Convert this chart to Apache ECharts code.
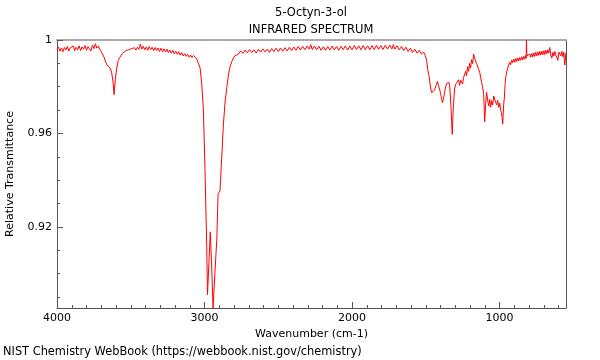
<!DOCTYPE html>
<html>
<head>
<meta charset="utf-8">
<script src="https://cdn.jsdelivr.net/npm/echarts@6/dist/echarts.min.js"></script>
<style>
html,body{margin:0;padding:0;background:#fff;}
#chart{width:600px;height:360px;}
</style>
</head>
<body>
<div id="chart"></div>
<script>
const wavenumbers = [
4000,3990,3980,3970,3960,3950,3940,3930,3920,3910,3900,3890,3880,3870,3860,3850,3840,3830,3820,3810,
3800,3790,3780,3770,3760,3750,3740,3730,3720,3710,3700,3690,3680,3670,3660,3650,3640,3630,3620,3613,
3605,3595,3585,3575,3565,3555,3545,3535,3525,3515,3505,3495,3485,3475,3465,3455,3445,3435,3425,3415,
3405,3395,3385,3375,3365,3355,3345,3335,3325,3315,3305,3295,3285,3275,3265,3255,3245,3235,3225,3215,
3205,3195,3185,3175,3165,3155,3145,3135,3125,3115,3105,3095,3085,3075,3064,3053,3030,3019,3008,2997,
2985,2980,2970,2961,2951,2942,2930,2917,2908,2895,2883,2872,2860,2849,2838,2827,2815,2804,2795,2786,
2770,2755,2740,2725,2710,2695,2680,2665,2650,2635,2620,2605,2590,2575,2560,2545,2530,2515,2500,2485,
2470,2455,2440,2425,2410,2395,2380,2365,2350,2335,2320,2305,2290,2280,2270,2255,2240,2225,2210,2195,
2180,2165,2150,2135,2120,2105,2090,2075,2060,2045,2030,2015,2000,1985,1970,1955,1940,1925,1910,1895,
1880,1865,1850,1835,1820,1805,1790,1775,1760,1745,1730,1720,1710,1695,1680,1665,1650,1635,1620,1605,
1590,1575,1560,1545,1530,1515,1505,1495,1488,1478,1468,1461,1455,1448,1441,1434,1428,1421,1414,1407,
1400,1393,1387,1380,1373,1366,1358,1350,1343,1337,1330,1325,1321,1316,1312,1305,1298,1292,1285,1278,
1271,1264,1258,1251,1244,1237,1230,1224,1217,1210,1203,1197,1190,1183,1176,1170,1163,1156,1149,1142,
1135,1128,1122,1115,1108,1101,1095,1088,1081,1074,1067,1061,1054,1047,1040,1033,1027,1020,1013,1006,
999,993,988,983,979,973,967,963,959,952,945,938,932,925,918,911,904,897,890,884,
877,870,864,857,850,843,836,829,823,820,818,815,809,802,795,789,782,775,768,762,
755,748,741,734,728,721,714,707,700,694,687,680,673,667,660,653,646,639,632,626,
619,612,605,598,592,585,578,571,565,558,551
];
const transmittance = [
.9958,.9970,.9952,.9966,.9950,.9968,.9957,.9972,.9953,.9967,.9960,.9974,.9954,.9969,.9958,.9975,.9955,.9970,.9961,.9976,
.9956,.9971,.9962,.9953,.9979,.9963,.9984,.9965,.9974,.9960,.9950,.9945,.9925,.9905,.9893,.9890,.9880,.9862,.9820,.9766,
.9830,.9880,.9912,.9925,.9935,.9944,.9942,.9953,.9946,.9958,.9950,.9963,.9955,.9967,.9957,.9969,.9960,.9982,.9961,.9973,
.9958,.9970,.9956,.9972,.9959,.9969,.9954,.9968,.9955,.9966,.9951,.9965,.9950,.9962,.9948,.9961,.9946,.9957,.9943,.9956,
.9941,.9952,.9939,.9950,.9935,.9946,.9932,.9942,.9930,.9939,.9927,.9936,.9925,.9934,.9930,.9919,.9880,.9812,.9705,.9449,
.9115,.8910,.9050,.9179,.9017,.8853,.9000,.9145,.9342,.9355,.9504,.9641,.9740,.9797,.9850,.9885,.9908,.9923,.9932,.9940,
.9940,.9953,.9943,.9957,.9945,.9960,.9947,.9958,.9944,.9960,.9948,.9962,.9949,.9961,.9947,.9963,.9950,.9965,.9951,.9966,
.9952,.9967,.9953,.9969,.9955,.9970,.9956,.9972,.9957,.9973,.9958,.9974,.9961,.9980,.9959,.9974,.9958,.9973,.9956,.9971,
.9956,.9972,.9957,.9974,.9958,.9972,.9956,.9973,.9959,.9975,.9957,.9974,.9958,.9976,.9959,.9975,.9958,.9976,.9959,.9975,
.9958,.9976,.9959,.9977,.9960,.9976,.9960,.9977,.9961,.9978,.9962,.9980,.9961,.9975,.9958,.9972,.9955,.9969,.9951,.9965,
.9947,.9961,.9944,.9956,.9940,.9948,.9935,.9915,.9875,.9845,.9795,.9775,.9780,.9770,.9785,.9778,.9810,.9823,.9805,.9790,
.9770,.9748,.9732,.9750,.9775,.9800,.9815,.9822,.9818,.9795,.9720,.9650,.9596,.9680,.9730,.9790,.9810,.9818,.9805,.9830,
.9806,.9828,.9836,.9812,.9840,.9848,.9866,.9846,.9886,.9866,.9900,.9880,.9916,.9899,.9940,.9922,.9917,.9900,.9892,.9874,
.9862,.9838,.9818,.9800,.9768,.9650,.9722,.9776,.9742,.9718,.9746,.9712,.9740,.9722,.9760,.9766,.9734,.9722,.9742,.9712,
.9730,.9700,.9690,.9668,.9640,.9718,.9760,.9810,.9838,.9864,.9880,.9894,.9904,.9894,.9914,.9903,.9918,.9905,.9921,.9908,
.9923,.9910,.9925,.9913,.9928,.9915,.9930,.9918,.9933,.9922,1.0000,.9932,.9938,.9924,.9940,.9926,.9942,.9928,.9945,.9930,
.9947,.9932,.9949,.9934,.9951,.9936,.9952,.9937,.9954,.9938,.9956,.9941,.9958,.9944,.9968,.9935,.9922,.9947,.9931,.9951,
.9936,.9926,.9913,.9948,.9956,.9932,.9951,.9928,.9948,.9893,.9944
];
const xMajorTicks = [4000, 3000, 2000, 1000];
const xMinorTicks = [4000,3900,3800,3700,3600,3500,3400,3300,3200,3100,3000,2900,2800,2700,2600,2500,2400,2300,2200,2100,2000,1900,1800,1700,1600,1500,1400,1300,1200,1100,1000,900,800,700,600];
const yMajorTicks = [0.92, 0.96, 1];
const yMinorTicks = [0.89,0.90,0.91,0.92,0.93,0.94,0.95,0.96,0.97,0.98,0.99,1.0];
const titleLines = ['5-Octyn-3-ol', 'INFRARED SPECTRUM'];
const xName = 'Wavenumber (cm-1)';
const yName = 'Relative Transmittance';
const footer = 'NIST Chemistry WebBook (https://webbook.nist.gov/chemistry)';

const X_MIN = 550, X_MAX = 4000, Y_MIN = 0.8853, Y_MAX = 1;
const FONT = 'DejaVu Sans';
const AX = '#555';

const seriesData = wavenumbers.map((w, i) => [w, transmittance[i]]);

const chart = echarts.init(document.getElementById('chart'), null, {renderer: 'canvas'});
const gridRect = {left: 57, right: 34, top: 40, bottom: 52, containLabel: false, outerBoundsMode: 'none'};
chart.setOption({
  animation: false,
  grid: [Object.assign({}, gridRect), Object.assign({}, gridRect)],
  xAxis: [
    {
      gridIndex: 0, type: 'value', inverse: true, min: X_MIN, max: X_MAX, position: 'bottom',
      axisLine: {show: true, onZero: false, lineStyle: {color: AX, width: 1}},
      axisTick: {show: true, inside: true, length: 3, customValues: xMinorTicks, lineStyle: {color: AX}},
      axisLabel: {show: true, customValues: xMajorTicks, color: '#000', fontSize: 11, fontFamily: FONT, margin: 5,
                  formatter: v => String(v)},
      splitLine: {show: false},
      name: xName, nameLocation: 'middle', nameGap: 18,
      nameTextStyle: {color: '#000', fontSize: 11, fontFamily: FONT}
    },
    {
      gridIndex: 0, type: 'value', inverse: true, min: X_MIN, max: X_MAX, position: 'top',
      axisLine: {show: true, onZero: false, lineStyle: {color: '#aaa', width: 2}},
      axisTick: {show: false}, axisLabel: {show: false}, splitLine: {show: false}
    },
    {
      gridIndex: 1, type: 'value', inverse: true, min: X_MIN, max: X_MAX, position: 'bottom',
      axisLine: {show: false, onZero: false},
      axisTick: {show: true, inside: true, length: 6, customValues: xMajorTicks, lineStyle: {color: AX}},
      axisLabel: {show: false}, splitLine: {show: false}
    }
  ],
  yAxis: [
    {
      gridIndex: 0, type: 'value', min: Y_MIN, max: Y_MAX, position: 'left',
      axisLine: {show: true, onZero: false, lineStyle: {color: AX, width: 1}},
      axisTick: {show: true, inside: true, length: 3, customValues: yMinorTicks, lineStyle: {color: AX}},
      axisLabel: {show: true, customValues: yMajorTicks, color: '#000', fontSize: 11, fontFamily: FONT, margin: 5},
      splitLine: {show: false},
      name: yName, nameLocation: 'middle', nameGap: 41,
      nameTextStyle: {color: '#000', fontSize: 11, fontFamily: FONT}
    },
    {
      gridIndex: 0, type: 'value', min: Y_MIN, max: Y_MAX, position: 'right',
      axisLine: {show: true, onZero: false, lineStyle: {color: AX, width: 1}},
      axisTick: {show: false}, axisLabel: {show: false}, splitLine: {show: false}
    },
    {
      gridIndex: 1, type: 'value', min: Y_MIN, max: Y_MAX, position: 'left',
      axisLine: {show: false, onZero: false},
      axisTick: {show: true, inside: true, length: 6, customValues: yMajorTicks, lineStyle: {color: AX}},
      axisLabel: {show: false}, splitLine: {show: false}
    }
  ],
  series: [{
    type: 'line',
    xAxisIndex: 0, yAxisIndex: 0,
    data: seriesData,
    showSymbol: false,
    symbol: 'none',
    clip: true,
    lineStyle: {color: '#ff0000', width: 1},
    itemStyle: {color: '#ff0000'}
  }],
  graphic: [
    {type: 'text', x: 311, y: 13, style: {text: titleLines[0], align: 'center', verticalAlign: 'middle', fontSize: 11.5, fontFamily: FONT, fill: '#000'}},
    {type: 'text', x: 311, y: 30, style: {text: titleLines[1], align: 'center', verticalAlign: 'middle', fontSize: 11.5, fontFamily: FONT, fill: '#000'}},
    {type: 'text', x: 3, y: 352, style: {text: footer, align: 'left', verticalAlign: 'middle', fontSize: 11.4, fontFamily: FONT, fill: '#000'}}
  ]
});
</script>
</body>
</html>
